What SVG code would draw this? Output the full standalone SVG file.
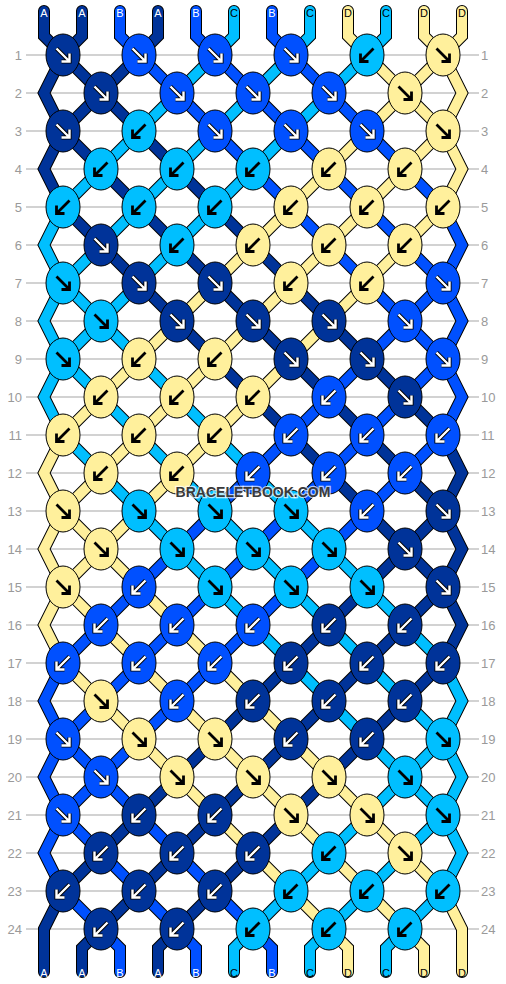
<svg xmlns="http://www.w3.org/2000/svg" xmlns:xlink="http://www.w3.org/1999/xlink" width="506" height="984" viewBox="0 0 506 984">
<style>
.bg{fill:#fff}
.rl{stroke:#c4c4c4;stroke-width:1.5}
.rn{font-family:"Liberation Sans",Arial,sans-serif;font-size:13px;fill:#9a9a9a}
.rnl{text-anchor:end}
.so{fill:none;stroke:#000;stroke-width:12;stroke-linecap:round;stroke-linejoin:miter}
.s{fill:none;stroke-width:10;stroke-linecap:round;stroke-linejoin:miter}
.sA{stroke:#003399}.sB{stroke:#0050ff}.sC{stroke:#00bfff}.sD{stroke:#fff09c}
.k{stroke:#000;stroke-width:1}
.kA{fill:#003399}.kB{fill:#0050ff}.kC{fill:#00bfff}.kD{fill:#fff09c}
.lb{font-family:"Liberation Sans",Arial,sans-serif;font-size:11px;text-anchor:middle}
.lw{fill:#fff}.lk{fill:#000}
.wm{font-family:"Liberation Sans",Arial,sans-serif;font-size:14px;font-weight:bold;text-anchor:middle;fill:#3a3a3a;stroke:#fff;stroke-opacity:0.7;stroke-width:2.5;paint-order:stroke}
</style>
<defs>
<g id="fw"><path d="M-6.5,-6.5 L6,6 M6.5,-1.5 V6.5 H-1.5" fill="none" stroke="#000" stroke-width="4.2"/><path d="M-6.5,-6.5 L6,6 M6.5,-1.5 V6.5 H-1.5" fill="none" stroke="#fff" stroke-width="2.4"/></g>
<g id="bw"><path d="M6.5,-6.5 L-6,6 M-6.5,-1.5 V6.5 H1.5" fill="none" stroke="#000" stroke-width="4.2"/><path d="M6.5,-6.5 L-6,6 M-6.5,-1.5 V6.5 H1.5" fill="none" stroke="#fff" stroke-width="2.4"/></g>
<g id="fb"><path d="M-6.5,-6.5 L6,6 M6.5,-1.5 V6.5 H-1.5" fill="none" stroke="#000" stroke-width="2.8"/></g>
<g id="bb"><path d="M6.5,-6.5 L-6,6 M-6.5,-1.5 V6.5 H1.5" fill="none" stroke="#000" stroke-width="2.8"/></g>
</defs>
<rect class="bg" x="0" y="0" width="506" height="984"/>
<g id="rows">
<path class="rl" d="M26,55H479M26,93H479M26,131H479M26,169H479M26,207H479M26,245H479M26,283H479M26,321H479M26,359H479M26,397H479M26,435H479M26,473H479M26,511H479M26,549H479M26,587H479M26,625H479M26,663H479M26,701H479M26,739H479M26,777H479M26,815H479M26,853H479M26,891H479M26,929H479"/>
<g class="rn rnl">
<text x="22" y="59.5">1</text><text x="22" y="97.5">2</text><text x="22" y="135.5">3</text><text x="22" y="173.5">4</text><text x="22" y="211.5">5</text><text x="22" y="249.5">6</text><text x="22" y="287.5">7</text><text x="22" y="325.5">8</text><text x="22" y="363.5">9</text><text x="22" y="401.5">10</text><text x="22" y="439.5">11</text><text x="22" y="477.5">12</text><text x="22" y="515.5">13</text><text x="22" y="553.5">14</text><text x="22" y="591.5">15</text><text x="22" y="629.5">16</text><text x="22" y="667.5">17</text><text x="22" y="705.5">18</text><text x="22" y="743.5">19</text><text x="22" y="781.5">20</text><text x="22" y="819.5">21</text><text x="22" y="857.5">22</text><text x="22" y="895.5">23</text><text x="22" y="933.5">24</text>
</g>
<g class="rn">
<text x="481" y="59.5">1</text><text x="481" y="97.5">2</text><text x="481" y="135.5">3</text><text x="481" y="173.5">4</text><text x="481" y="211.5">5</text><text x="481" y="249.5">6</text><text x="481" y="287.5">7</text><text x="481" y="325.5">8</text><text x="481" y="363.5">9</text><text x="481" y="401.5">10</text><text x="481" y="439.5">11</text><text x="481" y="477.5">12</text><text x="481" y="515.5">13</text><text x="481" y="553.5">14</text><text x="481" y="591.5">15</text><text x="481" y="629.5">16</text><text x="481" y="667.5">17</text><text x="481" y="705.5">18</text><text x="481" y="743.5">19</text><text x="481" y="781.5">20</text><text x="481" y="819.5">21</text><text x="481" y="857.5">22</text><text x="481" y="895.5">23</text><text x="481" y="933.5">24</text>
</g>
</g>
<g id="connectors">
<g id="str0"><path class="so" d="M44,11V36L63,55L101,93L139,131L177,169L215,207L253,245L291,283L329,321L367,359L405,397L443,435L462,473L443,511L405,549L367,587L329,625L291,663L253,701L215,739L177,777L139,815L101,853L63,891L44,929V972"/><path class="s sA" d="M44,11V36L63,55L101,93L139,131L177,169L215,207L253,245L291,283L329,321L367,359L405,397L443,435L462,473L443,511L405,549L367,587L329,625L291,663L253,701L215,739L177,777L139,815L101,853L63,891L44,929V972"/></g>
<g id="str1"><path class="so" d="M82,11V36L63,55L44,93L63,131L101,169L139,207L177,245L215,283L253,321L291,359L329,397L367,435L405,473L443,511L462,549L443,587L405,625L367,663L329,701L291,739L253,777L215,815L177,853L139,891L101,929L82,948V972"/><path class="s sA" d="M82,11V36L63,55L44,93L63,131L101,169L139,207L177,245L215,283L253,321L291,359L329,397L367,435L405,473L443,511L462,549L443,587L405,625L367,663L329,701L291,739L253,777L215,815L177,853L139,891L101,929L82,948V972"/></g>
<g id="str2"><path class="so" d="M120,11V36L139,55L177,93L215,131L253,169L291,207L329,245L367,283L405,321L443,359L462,397L443,435L405,473L367,511L329,549L291,587L253,625L215,663L177,701L139,739L101,777L63,815L44,853L63,891L101,929L120,948V972"/><path class="s sB" d="M120,11V36L139,55L177,93L215,131L253,169L291,207L329,245L367,283L405,321L443,359L462,397L443,435L405,473L367,511L329,549L291,587L253,625L215,663L177,701L139,739L101,777L63,815L44,853L63,891L101,929L120,948V972"/></g>
<g id="str3"><path class="so" d="M158,11V36L139,55L101,93L63,131L44,169L63,207L101,245L139,283L177,321L215,359L253,397L291,435L329,473L367,511L405,549L443,587L462,625L443,663L405,701L367,739L329,777L291,815L253,853L215,891L177,929L158,948V972"/><path class="s sA" d="M158,11V36L139,55L101,93L63,131L44,169L63,207L101,245L139,283L177,321L215,359L253,397L291,435L329,473L367,511L405,549L443,587L462,625L443,663L405,701L367,739L329,777L291,815L253,853L215,891L177,929L158,948V972"/></g>
<g id="str4"><path class="so" d="M196,11V36L215,55L253,93L291,131L329,169L367,207L405,245L443,283L462,321L443,359L405,397L367,435L329,473L291,511L253,549L215,587L177,625L139,663L101,701L63,739L44,777L63,815L101,853L139,891L177,929L196,948V972"/><path class="s sB" d="M196,11V36L215,55L253,93L291,131L329,169L367,207L405,245L443,283L462,321L443,359L405,397L367,435L329,473L291,511L253,549L215,587L177,625L139,663L101,701L63,739L44,777L63,815L101,853L139,891L177,929L196,948V972"/></g>
<g id="str5"><path class="so" d="M234,11V36L215,55L177,93L139,131L101,169L63,207L44,245L63,283L101,321L139,359L177,397L215,435L253,473L291,511L329,549L367,587L405,625L443,663L462,701L443,739L405,777L367,815L329,853L291,891L253,929L234,948V972"/><path class="s sC" d="M234,11V36L215,55L177,93L139,131L101,169L63,207L44,245L63,283L101,321L139,359L177,397L215,435L253,473L291,511L329,549L367,587L405,625L443,663L462,701L443,739L405,777L367,815L329,853L291,891L253,929L234,948V972"/></g>
<g id="str6"><path class="so" d="M272,11V36L291,55L329,93L367,131L405,169L443,207L462,245L443,283L405,321L367,359L329,397L291,435L253,473L215,511L177,549L139,587L101,625L63,663L44,701L63,739L101,777L139,815L177,853L215,891L253,929L272,948V972"/><path class="s sB" d="M272,11V36L291,55L329,93L367,131L405,169L443,207L462,245L443,283L405,321L367,359L329,397L291,435L253,473L215,511L177,549L139,587L101,625L63,663L44,701L63,739L101,777L139,815L177,853L215,891L253,929L272,948V972"/></g>
<g id="str7"><path class="so" d="M310,11V36L291,55L253,93L215,131L177,169L139,207L101,245L63,283L44,321L63,359L101,397L139,435L177,473L215,511L253,549L291,587L329,625L367,663L405,701L443,739L462,777L443,815L405,853L367,891L329,929L310,948V972"/><path class="s sC" d="M310,11V36L291,55L253,93L215,131L177,169L139,207L101,245L63,283L44,321L63,359L101,397L139,435L177,473L215,511L253,549L291,587L329,625L367,663L405,701L443,739L462,777L443,815L405,853L367,891L329,929L310,948V972"/></g>
<g id="str8"><path class="so" d="M348,11V36L367,55L405,93L443,131L462,169L443,207L405,245L367,283L329,321L291,359L253,397L215,435L177,473L139,511L101,549L63,587L44,625L63,663L101,701L139,739L177,777L215,815L253,853L291,891L329,929L348,948V972"/><path class="s sD" d="M348,11V36L367,55L405,93L443,131L462,169L443,207L405,245L367,283L329,321L291,359L253,397L215,435L177,473L139,511L101,549L63,587L44,625L63,663L101,701L139,739L177,777L215,815L253,853L291,891L329,929L348,948V972"/></g>
<g id="str9"><path class="so" d="M386,11V36L367,55L329,93L291,131L253,169L215,207L177,245L139,283L101,321L63,359L44,397L63,435L101,473L139,511L177,549L215,587L253,625L291,663L329,701L367,739L405,777L443,815L462,853L443,891L405,929L386,948V972"/><path class="s sC" d="M386,11V36L367,55L329,93L291,131L253,169L215,207L177,245L139,283L101,321L63,359L44,397L63,435L101,473L139,511L177,549L215,587L253,625L291,663L329,701L367,739L405,777L443,815L462,853L443,891L405,929L386,948V972"/></g>
<g id="str10"><path class="so" d="M424,11V36L443,55L462,93L443,131L405,169L367,207L329,245L291,283L253,321L215,359L177,397L139,435L101,473L63,511L44,549L63,587L101,625L139,663L177,701L215,739L253,777L291,815L329,853L367,891L405,929L424,948V972"/><path class="s sD" d="M424,11V36L443,55L462,93L443,131L405,169L367,207L329,245L291,283L253,321L215,359L177,397L139,435L101,473L63,511L44,549L63,587L101,625L139,663L177,701L215,739L253,777L291,815L329,853L367,891L405,929L424,948V972"/></g>
<g id="str11"><path class="so" d="M462,11V36L443,55L405,93L367,131L329,169L291,207L253,245L215,283L177,321L139,359L101,397L63,435L44,473L63,511L101,549L139,587L177,625L215,663L253,701L291,739L329,777L367,815L405,853L443,891L462,929V972"/><path class="s sD" d="M462,11V36L443,55L405,93L367,131L329,169L291,207L253,245L215,283L177,321L139,359L101,397L63,435L44,473L63,511L101,549L139,587L177,625L215,663L253,701L291,739L329,777L367,815L405,853L443,891L462,929V972"/></g>
</g>
<g id="labels" class="lb">
<text class="lw" x="44" y="16.5">A</text><text class="lw" x="82" y="16.5">A</text><text class="lw" x="120" y="16.5">B</text><text class="lw" x="158" y="16.5">A</text><text class="lw" x="196" y="16.5">B</text><text class="lk" x="234" y="16.5">C</text><text class="lw" x="272" y="16.5">B</text><text class="lk" x="310" y="16.5">C</text><text class="lk" x="348" y="16.5">D</text><text class="lk" x="386" y="16.5">C</text><text class="lk" x="424" y="16.5">D</text><text class="lk" x="462" y="16.5">D</text>
<text class="lw" x="44" y="976.5">A</text><text class="lw" x="82" y="976.5">A</text><text class="lw" x="120" y="976.5">B</text><text class="lw" x="158" y="976.5">A</text><text class="lw" x="196" y="976.5">B</text><text class="lk" x="234" y="976.5">C</text><text class="lw" x="272" y="976.5">B</text><text class="lk" x="310" y="976.5">C</text><text class="lk" x="348" y="976.5">D</text><text class="lk" x="386" y="976.5">C</text><text class="lk" x="424" y="976.5">D</text><text class="lk" x="462" y="976.5">D</text>
</g>
<g id="knots">
<g id="k1-1" transform="translate(63,55)"><ellipse class="k kA" rx="17" ry="21"/><use href="#fw"/></g>
<g id="k1-2" transform="translate(139,55)"><ellipse class="k kB" rx="17" ry="21"/><use href="#fw"/></g>
<g id="k1-3" transform="translate(215,55)"><ellipse class="k kB" rx="17" ry="21"/><use href="#fw"/></g>
<g id="k1-4" transform="translate(291,55)"><ellipse class="k kB" rx="17" ry="21"/><use href="#fw"/></g>
<g id="k1-5" transform="translate(367,55)"><ellipse class="k kC" rx="17" ry="21"/><use href="#bb"/></g>
<g id="k1-6" transform="translate(443,55)"><ellipse class="k kD" rx="17" ry="21"/><use href="#fb"/></g>
<g id="k2-1" transform="translate(101,93)"><ellipse class="k kA" rx="17" ry="21"/><use href="#fw"/></g>
<g id="k2-2" transform="translate(177,93)"><ellipse class="k kB" rx="17" ry="21"/><use href="#fw"/></g>
<g id="k2-3" transform="translate(253,93)"><ellipse class="k kB" rx="17" ry="21"/><use href="#fw"/></g>
<g id="k2-4" transform="translate(329,93)"><ellipse class="k kB" rx="17" ry="21"/><use href="#fw"/></g>
<g id="k2-5" transform="translate(405,93)"><ellipse class="k kD" rx="17" ry="21"/><use href="#fb"/></g>
<g id="k3-1" transform="translate(63,131)"><ellipse class="k kA" rx="17" ry="21"/><use href="#fw"/></g>
<g id="k3-2" transform="translate(139,131)"><ellipse class="k kC" rx="17" ry="21"/><use href="#bb"/></g>
<g id="k3-3" transform="translate(215,131)"><ellipse class="k kB" rx="17" ry="21"/><use href="#fw"/></g>
<g id="k3-4" transform="translate(291,131)"><ellipse class="k kB" rx="17" ry="21"/><use href="#fw"/></g>
<g id="k3-5" transform="translate(367,131)"><ellipse class="k kB" rx="17" ry="21"/><use href="#fw"/></g>
<g id="k3-6" transform="translate(443,131)"><ellipse class="k kD" rx="17" ry="21"/><use href="#fb"/></g>
<g id="k4-1" transform="translate(101,169)"><ellipse class="k kC" rx="17" ry="21"/><use href="#bb"/></g>
<g id="k4-2" transform="translate(177,169)"><ellipse class="k kC" rx="17" ry="21"/><use href="#bb"/></g>
<g id="k4-3" transform="translate(253,169)"><ellipse class="k kC" rx="17" ry="21"/><use href="#bb"/></g>
<g id="k4-4" transform="translate(329,169)"><ellipse class="k kD" rx="17" ry="21"/><use href="#bb"/></g>
<g id="k4-5" transform="translate(405,169)"><ellipse class="k kD" rx="17" ry="21"/><use href="#bb"/></g>
<g id="k5-1" transform="translate(63,207)"><ellipse class="k kC" rx="17" ry="21"/><use href="#bb"/></g>
<g id="k5-2" transform="translate(139,207)"><ellipse class="k kC" rx="17" ry="21"/><use href="#bb"/></g>
<g id="k5-3" transform="translate(215,207)"><ellipse class="k kC" rx="17" ry="21"/><use href="#bb"/></g>
<g id="k5-4" transform="translate(291,207)"><ellipse class="k kD" rx="17" ry="21"/><use href="#bb"/></g>
<g id="k5-5" transform="translate(367,207)"><ellipse class="k kD" rx="17" ry="21"/><use href="#bb"/></g>
<g id="k5-6" transform="translate(443,207)"><ellipse class="k kD" rx="17" ry="21"/><use href="#bb"/></g>
<g id="k6-1" transform="translate(101,245)"><ellipse class="k kA" rx="17" ry="21"/><use href="#fw"/></g>
<g id="k6-2" transform="translate(177,245)"><ellipse class="k kC" rx="17" ry="21"/><use href="#bb"/></g>
<g id="k6-3" transform="translate(253,245)"><ellipse class="k kD" rx="17" ry="21"/><use href="#bb"/></g>
<g id="k6-4" transform="translate(329,245)"><ellipse class="k kD" rx="17" ry="21"/><use href="#bb"/></g>
<g id="k6-5" transform="translate(405,245)"><ellipse class="k kD" rx="17" ry="21"/><use href="#bb"/></g>
<g id="k7-1" transform="translate(63,283)"><ellipse class="k kC" rx="17" ry="21"/><use href="#fb"/></g>
<g id="k7-2" transform="translate(139,283)"><ellipse class="k kA" rx="17" ry="21"/><use href="#fw"/></g>
<g id="k7-3" transform="translate(215,283)"><ellipse class="k kA" rx="17" ry="21"/><use href="#fw"/></g>
<g id="k7-4" transform="translate(291,283)"><ellipse class="k kD" rx="17" ry="21"/><use href="#bb"/></g>
<g id="k7-5" transform="translate(367,283)"><ellipse class="k kD" rx="17" ry="21"/><use href="#bb"/></g>
<g id="k7-6" transform="translate(443,283)"><ellipse class="k kB" rx="17" ry="21"/><use href="#fw"/></g>
<g id="k8-1" transform="translate(101,321)"><ellipse class="k kC" rx="17" ry="21"/><use href="#fb"/></g>
<g id="k8-2" transform="translate(177,321)"><ellipse class="k kA" rx="17" ry="21"/><use href="#fw"/></g>
<g id="k8-3" transform="translate(253,321)"><ellipse class="k kA" rx="17" ry="21"/><use href="#fw"/></g>
<g id="k8-4" transform="translate(329,321)"><ellipse class="k kA" rx="17" ry="21"/><use href="#fw"/></g>
<g id="k8-5" transform="translate(405,321)"><ellipse class="k kB" rx="17" ry="21"/><use href="#fw"/></g>
<g id="k9-1" transform="translate(63,359)"><ellipse class="k kC" rx="17" ry="21"/><use href="#fb"/></g>
<g id="k9-2" transform="translate(139,359)"><ellipse class="k kD" rx="17" ry="21"/><use href="#bb"/></g>
<g id="k9-3" transform="translate(215,359)"><ellipse class="k kD" rx="17" ry="21"/><use href="#bb"/></g>
<g id="k9-4" transform="translate(291,359)"><ellipse class="k kA" rx="17" ry="21"/><use href="#fw"/></g>
<g id="k9-5" transform="translate(367,359)"><ellipse class="k kA" rx="17" ry="21"/><use href="#fw"/></g>
<g id="k9-6" transform="translate(443,359)"><ellipse class="k kB" rx="17" ry="21"/><use href="#fw"/></g>
<g id="k10-1" transform="translate(101,397)"><ellipse class="k kD" rx="17" ry="21"/><use href="#bb"/></g>
<g id="k10-2" transform="translate(177,397)"><ellipse class="k kD" rx="17" ry="21"/><use href="#bb"/></g>
<g id="k10-3" transform="translate(253,397)"><ellipse class="k kD" rx="17" ry="21"/><use href="#bb"/></g>
<g id="k10-4" transform="translate(329,397)"><ellipse class="k kB" rx="17" ry="21"/><use href="#bw"/></g>
<g id="k10-5" transform="translate(405,397)"><ellipse class="k kA" rx="17" ry="21"/><use href="#fw"/></g>
<g id="k11-1" transform="translate(63,435)"><ellipse class="k kD" rx="17" ry="21"/><use href="#bb"/></g>
<g id="k11-2" transform="translate(139,435)"><ellipse class="k kD" rx="17" ry="21"/><use href="#bb"/></g>
<g id="k11-3" transform="translate(215,435)"><ellipse class="k kD" rx="17" ry="21"/><use href="#bb"/></g>
<g id="k11-4" transform="translate(291,435)"><ellipse class="k kB" rx="17" ry="21"/><use href="#bw"/></g>
<g id="k11-5" transform="translate(367,435)"><ellipse class="k kB" rx="17" ry="21"/><use href="#bw"/></g>
<g id="k11-6" transform="translate(443,435)"><ellipse class="k kB" rx="17" ry="21"/><use href="#bw"/></g>
<g id="k12-1" transform="translate(101,473)"><ellipse class="k kD" rx="17" ry="21"/><use href="#bb"/></g>
<g id="k12-2" transform="translate(177,473)"><ellipse class="k kD" rx="17" ry="21"/><use href="#bb"/></g>
<g id="k12-3" transform="translate(253,473)"><ellipse class="k kB" rx="17" ry="21"/><use href="#bw"/></g>
<g id="k12-4" transform="translate(329,473)"><ellipse class="k kB" rx="17" ry="21"/><use href="#bw"/></g>
<g id="k12-5" transform="translate(405,473)"><ellipse class="k kB" rx="17" ry="21"/><use href="#bw"/></g>
<g id="k13-1" transform="translate(63,511)"><ellipse class="k kD" rx="17" ry="21"/><use href="#fb"/></g>
<g id="k13-2" transform="translate(139,511)"><ellipse class="k kC" rx="17" ry="21"/><use href="#fb"/></g>
<g id="k13-3" transform="translate(215,511)"><ellipse class="k kC" rx="17" ry="21"/><use href="#fb"/></g>
<g id="k13-4" transform="translate(291,511)"><ellipse class="k kC" rx="17" ry="21"/><use href="#fb"/></g>
<g id="k13-5" transform="translate(367,511)"><ellipse class="k kB" rx="17" ry="21"/><use href="#bw"/></g>
<g id="k13-6" transform="translate(443,511)"><ellipse class="k kA" rx="17" ry="21"/><use href="#fw"/></g>
<g id="k14-1" transform="translate(101,549)"><ellipse class="k kD" rx="17" ry="21"/><use href="#fb"/></g>
<g id="k14-2" transform="translate(177,549)"><ellipse class="k kC" rx="17" ry="21"/><use href="#fb"/></g>
<g id="k14-3" transform="translate(253,549)"><ellipse class="k kC" rx="17" ry="21"/><use href="#fb"/></g>
<g id="k14-4" transform="translate(329,549)"><ellipse class="k kC" rx="17" ry="21"/><use href="#fb"/></g>
<g id="k14-5" transform="translate(405,549)"><ellipse class="k kA" rx="17" ry="21"/><use href="#fw"/></g>
<g id="k15-1" transform="translate(63,587)"><ellipse class="k kD" rx="17" ry="21"/><use href="#fb"/></g>
<g id="k15-2" transform="translate(139,587)"><ellipse class="k kB" rx="17" ry="21"/><use href="#bw"/></g>
<g id="k15-3" transform="translate(215,587)"><ellipse class="k kC" rx="17" ry="21"/><use href="#fb"/></g>
<g id="k15-4" transform="translate(291,587)"><ellipse class="k kC" rx="17" ry="21"/><use href="#fb"/></g>
<g id="k15-5" transform="translate(367,587)"><ellipse class="k kC" rx="17" ry="21"/><use href="#fb"/></g>
<g id="k15-6" transform="translate(443,587)"><ellipse class="k kA" rx="17" ry="21"/><use href="#fw"/></g>
<g id="k16-1" transform="translate(101,625)"><ellipse class="k kB" rx="17" ry="21"/><use href="#bw"/></g>
<g id="k16-2" transform="translate(177,625)"><ellipse class="k kB" rx="17" ry="21"/><use href="#bw"/></g>
<g id="k16-3" transform="translate(253,625)"><ellipse class="k kB" rx="17" ry="21"/><use href="#bw"/></g>
<g id="k16-4" transform="translate(329,625)"><ellipse class="k kA" rx="17" ry="21"/><use href="#bw"/></g>
<g id="k16-5" transform="translate(405,625)"><ellipse class="k kA" rx="17" ry="21"/><use href="#bw"/></g>
<g id="k17-1" transform="translate(63,663)"><ellipse class="k kB" rx="17" ry="21"/><use href="#bw"/></g>
<g id="k17-2" transform="translate(139,663)"><ellipse class="k kB" rx="17" ry="21"/><use href="#bw"/></g>
<g id="k17-3" transform="translate(215,663)"><ellipse class="k kB" rx="17" ry="21"/><use href="#bw"/></g>
<g id="k17-4" transform="translate(291,663)"><ellipse class="k kA" rx="17" ry="21"/><use href="#bw"/></g>
<g id="k17-5" transform="translate(367,663)"><ellipse class="k kA" rx="17" ry="21"/><use href="#bw"/></g>
<g id="k17-6" transform="translate(443,663)"><ellipse class="k kA" rx="17" ry="21"/><use href="#bw"/></g>
<g id="k18-1" transform="translate(101,701)"><ellipse class="k kD" rx="17" ry="21"/><use href="#fb"/></g>
<g id="k18-2" transform="translate(177,701)"><ellipse class="k kB" rx="17" ry="21"/><use href="#bw"/></g>
<g id="k18-3" transform="translate(253,701)"><ellipse class="k kA" rx="17" ry="21"/><use href="#bw"/></g>
<g id="k18-4" transform="translate(329,701)"><ellipse class="k kA" rx="17" ry="21"/><use href="#bw"/></g>
<g id="k18-5" transform="translate(405,701)"><ellipse class="k kA" rx="17" ry="21"/><use href="#bw"/></g>
<g id="k19-1" transform="translate(63,739)"><ellipse class="k kB" rx="17" ry="21"/><use href="#fw"/></g>
<g id="k19-2" transform="translate(139,739)"><ellipse class="k kD" rx="17" ry="21"/><use href="#fb"/></g>
<g id="k19-3" transform="translate(215,739)"><ellipse class="k kD" rx="17" ry="21"/><use href="#fb"/></g>
<g id="k19-4" transform="translate(291,739)"><ellipse class="k kA" rx="17" ry="21"/><use href="#bw"/></g>
<g id="k19-5" transform="translate(367,739)"><ellipse class="k kA" rx="17" ry="21"/><use href="#bw"/></g>
<g id="k19-6" transform="translate(443,739)"><ellipse class="k kC" rx="17" ry="21"/><use href="#fb"/></g>
<g id="k20-1" transform="translate(101,777)"><ellipse class="k kB" rx="17" ry="21"/><use href="#fw"/></g>
<g id="k20-2" transform="translate(177,777)"><ellipse class="k kD" rx="17" ry="21"/><use href="#fb"/></g>
<g id="k20-3" transform="translate(253,777)"><ellipse class="k kD" rx="17" ry="21"/><use href="#fb"/></g>
<g id="k20-4" transform="translate(329,777)"><ellipse class="k kD" rx="17" ry="21"/><use href="#fb"/></g>
<g id="k20-5" transform="translate(405,777)"><ellipse class="k kC" rx="17" ry="21"/><use href="#fb"/></g>
<g id="k21-1" transform="translate(63,815)"><ellipse class="k kB" rx="17" ry="21"/><use href="#fw"/></g>
<g id="k21-2" transform="translate(139,815)"><ellipse class="k kA" rx="17" ry="21"/><use href="#bw"/></g>
<g id="k21-3" transform="translate(215,815)"><ellipse class="k kA" rx="17" ry="21"/><use href="#bw"/></g>
<g id="k21-4" transform="translate(291,815)"><ellipse class="k kD" rx="17" ry="21"/><use href="#fb"/></g>
<g id="k21-5" transform="translate(367,815)"><ellipse class="k kD" rx="17" ry="21"/><use href="#fb"/></g>
<g id="k21-6" transform="translate(443,815)"><ellipse class="k kC" rx="17" ry="21"/><use href="#fb"/></g>
<g id="k22-1" transform="translate(101,853)"><ellipse class="k kA" rx="17" ry="21"/><use href="#bw"/></g>
<g id="k22-2" transform="translate(177,853)"><ellipse class="k kA" rx="17" ry="21"/><use href="#bw"/></g>
<g id="k22-3" transform="translate(253,853)"><ellipse class="k kA" rx="17" ry="21"/><use href="#bw"/></g>
<g id="k22-4" transform="translate(329,853)"><ellipse class="k kC" rx="17" ry="21"/><use href="#bb"/></g>
<g id="k22-5" transform="translate(405,853)"><ellipse class="k kD" rx="17" ry="21"/><use href="#fb"/></g>
<g id="k23-1" transform="translate(63,891)"><ellipse class="k kA" rx="17" ry="21"/><use href="#bw"/></g>
<g id="k23-2" transform="translate(139,891)"><ellipse class="k kA" rx="17" ry="21"/><use href="#bw"/></g>
<g id="k23-3" transform="translate(215,891)"><ellipse class="k kA" rx="17" ry="21"/><use href="#bw"/></g>
<g id="k23-4" transform="translate(291,891)"><ellipse class="k kC" rx="17" ry="21"/><use href="#bb"/></g>
<g id="k23-5" transform="translate(367,891)"><ellipse class="k kC" rx="17" ry="21"/><use href="#bb"/></g>
<g id="k23-6" transform="translate(443,891)"><ellipse class="k kC" rx="17" ry="21"/><use href="#bb"/></g>
<g id="k24-1" transform="translate(101,929)"><ellipse class="k kA" rx="17" ry="21"/><use href="#bw"/></g>
<g id="k24-2" transform="translate(177,929)"><ellipse class="k kA" rx="17" ry="21"/><use href="#bw"/></g>
<g id="k24-3" transform="translate(253,929)"><ellipse class="k kC" rx="17" ry="21"/><use href="#bb"/></g>
<g id="k24-4" transform="translate(329,929)"><ellipse class="k kC" rx="17" ry="21"/><use href="#bb"/></g>
<g id="k24-5" transform="translate(405,929)"><ellipse class="k kC" rx="17" ry="21"/><use href="#bb"/></g>
</g>
<text class="wm" x="253" y="497">BRACELETBOOK.COM</text>
</svg>
